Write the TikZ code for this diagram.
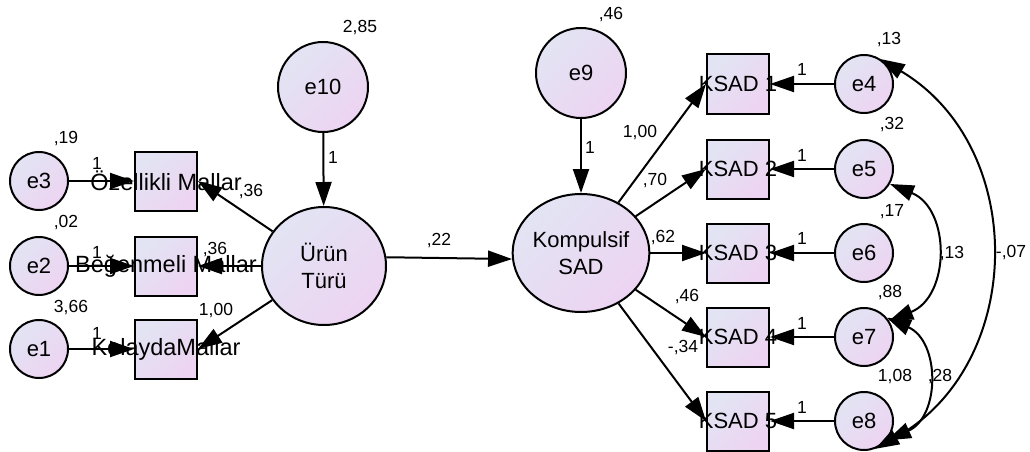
\documentclass[tikz,border=0pt]{standalone}
\usepackage{fontspec}
\setmainfont{Liberation Sans}
\usetikzlibrary{arrows.meta,shapes.geometric}
\definecolor{lavA}{RGB}{226,228,243}
\definecolor{lavB}{RGB}{237,212,242}
\begin{document}
\begin{tikzpicture}[x=1pt,y=-1pt,line width=2pt,
    >={Triangle[length=24pt,width=16pt]},
    lavfill/.style={left color=lavA,right color=lavB,shading angle=45},
    latent/.style={ellipse,draw,lavfill,inner sep=0pt,minimum width=124pt,minimum height=118pt,
      align=center,font=\fontsize{22}{27}\selectfont},
    err/.style={circle,draw,lavfill,inner sep=0pt,minimum size=58pt,font=\fontsize{22}{24}\selectfont},
    obs/.style={rectangle,draw,lavfill,inner sep=0pt,minimum width=62pt,minimum height=59pt},
    boxtxt/.style={inner sep=0pt,font=\fontsize{22}{24}\selectfont},
    est/.style={inner sep=0pt,font=\fontsize{17.5}{19}\selectfont}]
  \useasboundingbox (0,0) rectangle (1030,452);

  % latent variables
  \node[latent] (ur) at (324,266) {Ürün\\Türü};
  \node[latent] (ks) at (581,253) {Kompulsif\\SAD};
  \node[err,minimum size=90pt] (e10) at (323,87) {e10};
  \node[err,minimum size=90pt] (e9) at (581,73) {e9};

  % observed, left
  \node[obs,label={[boxtxt,font=\fontsize{23.5}{25}\selectfont]center:Özellikli Mallar}] (b1) at (166,181) {};
  \node[obs,label={[boxtxt,font=\fontsize{23.5}{25}\selectfont]center:Beğenmeli Mallar}] (b2) at (166,266) {};
  \node[obs,label={[boxtxt,font=\fontsize{23.5}{25}\selectfont]center:KolaydaMallar}] (b3) at (166,349) {};
  \node[err] (e3) at (39,181) {e3};
  \node[err] (e2) at (39,266) {e2};
  \node[err] (e1) at (39,349) {e1};

  % observed, right
  \node[obs,label={[boxtxt]center:KSAD 1}] (k1) at (738,84) {};
  \node[obs,label={[boxtxt]center:KSAD 2}] (k2) at (738,169) {};
  \node[obs,label={[boxtxt]center:KSAD 3}] (k3) at (738,253) {};
  \node[obs,label={[boxtxt]center:KSAD 4}] (k4) at (738,337) {};
  \node[obs,label={[boxtxt]center:KSAD 5}] (k5) at (738,421) {};
  \node[err] (e4) at (864,84) {e4};
  \node[err] (e5) at (864,169) {e5};
  \node[err] (e6) at (864,253) {e6};
  \node[err] (e7) at (864,337) {e7};
  \node[err] (e8) at (864,421) {e8};

  % paths
  \draw[->] (e10) -- (ur);
  \draw[->] (e9) -- (ks);
  \draw[->] (ur.8) -- (ks.185);
  \draw[->] (ur) -- (b1.east);
  \draw[->] (ur) -- (b2);
  \draw[->] (ur) -- (b3.east);
  \draw[->] (e3) -- (b1);
  \draw[->] (e2) -- (b2);
  \draw[->] (e1) -- (b3);
  \draw[->] (ks) -- (k1.west);
  \draw[->] (ks) -- (k2.west);
  \draw[->] (ks) -- (k3);
  \draw[->] (ks) -- (k4.west);
  \draw[->] (ks) -- (k5.west);
  \draw[->] (e4) -- (k1);
  \draw[->] (e5) -- (k2);
  \draw[->] (e6) -- (k3);
  \draw[->] (e7) -- (k4);
  \draw[->] (e8) -- (k5);

  % covariances
  \draw[<->] (e4.56) to[bend left=60,looseness=1.13] (e8.-68);
  \draw[<->] (e5.-30) to[bend left=68,looseness=1.23] (e7.33);
  \draw[<->] (e7.40) to[bend left=66,looseness=1.22] (e8.-40);

  % estimates
  \node[est] (v10) at (360,28) {2,85};
  \node[est] (v9) at (611,15) {,46};
  \node[est] (w10) at (333,157) {1};
  \node[est] (w9) at (590,147) {1};
  \node[est] (v3) at (66,139) {,19};
  \node[est] (v2) at (66,223) {,02};
  \node[est] (v1) at (71,308) {3,66};
  \node[est] (w3) at (97,163) {1};
  \node[est] (w2) at (97,252) {1};
  \node[est] (w1) at (97,333) {1};
  \node[est] (lb1) at (251,192) {,36};
  \node[est] (lb2) at (215,250) {,36};
  \node[est] (lb3) at (216,311) {1,00};
  \node[est] (lks) at (439,241) {,22};
  \node[est] (lk1) at (640,133) {1,00};
  \node[est] (lk2) at (655,181) {,70};
  \node[est] (lk3) at (663,238) {,62};
  \node[est] (lk4) at (687,297) {,46};
  \node[est] (lk5) at (683,348) {-,34};
  \node[est] (v4) at (889,40) {,13};
  \node[est] (v5) at (892,125) {,32};
  \node[est] (v6) at (892,212) {,17};
  \node[est] (v7) at (890,293) {,88};
  \node[est] (v8) at (895,377) {1,08};
  \node[est] (w4) at (802,69) {1};
  \node[est] (w5) at (802,155) {1};
  \node[est] (w6) at (802,238) {1};
  \node[est] (w7) at (802,323) {1};
  \node[est] (w8) at (802,407) {1};
  \node[est] (c57) at (952,254) {,13};
  \node[est] (c48) at (1011,253) {-,07};
  \node[est] (c78) at (940,377) {,28};
\end{tikzpicture}
\end{document}
